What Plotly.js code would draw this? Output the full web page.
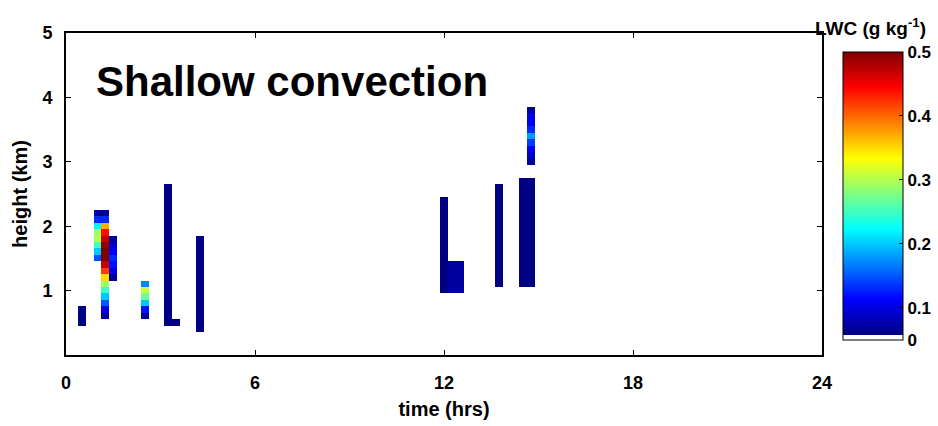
<!DOCTYPE html>
<html>
<head>
<meta charset="utf-8">
<script src="https://cdn.plot.ly/plotly-3.0.1.min.js"></script>
<style>
  body { margin: 0; background: #fff; }
  #chart { width: 938px; height: 426px; }
</style>
</head>
<body>
<div id="chart"></div>
<script>
// Cloud columns: time of each 15-min column (hrs), cloud base and top (km)
const timeHrs   = [0.5, 1.0, 1.25, 1.5, 2.5, 3.25, 3.5, 4.25, 12.0, 12.25, 12.5, 13.75, 14.5, 14.75, 14.75];
const cloudBase = [0.45, 1.45, 0.55, 1.15, 0.55, 0.45, 0.45, 0.35, 0.95, 0.95, 0.95, 1.05, 1.05, 1.05, 2.95];
const cloudTop  = [0.75, 2.25, 2.25, 1.85, 1.15, 2.65, 0.55, 1.85, 2.45, 1.45, 1.45, 2.65, 2.75, 2.75, 3.85];

// LWC (g/kg) in each 100 m layer, bottom to top; a single value fills the whole column
const lwcProfiles = [
  [0.06],
  [0.15, 0.20, 0.25, 0.30, 0.29, 0.22, 0.13, 0.07],
  [0.07, 0.10, 0.15, 0.20, 0.25, 0.29, 0.35, 0.42, 0.47, 0.50, 0.50, 0.49, 0.47, 0.44, 0.37, 0.13, 0.07],
  [0.07, 0.10, 0.12, 0.13, 0.11, 0.09, 0.07],
  [0.07, 0.12, 0.20, 0.27, 0.31, 0.17],
  [0.06],
  [0.06],
  [0.06],
  [0.06],
  [0.07],
  [0.07],
  [0.06],
  [0.06],
  [0.06],
  [0.07, 0.09, 0.11, 0.14, 0.18, 0.13, 0.11, 0.10, 0.07]
];

const xTicks = [0, 6, 12, 18, 24];
const yTicks = [1, 2, 3, 4, 5];
const cbTickVals = [0.05, 0.1, 0.2, 0.3, 0.4, 0.5];
const cbTickText = ['0', '0.1', '0.2', '0.3', '0.4', '0.5'];

// Regular grid: 15-min columns, 100 m layers
const xCenters = [];
for (let i = 0; i <= 96; i++) xCenters.push(i * 0.25);
const yCenters = [];
for (let k = 0; k <= 50; k++) yCenters.push(k / 10);
const z = yCenters.map(() => xCenters.map(() => null));

timeHrs.forEach((t, s) => {
  const col = Math.round(t / 0.25);
  const prof = lwcProfiles[s];
  let j = 0;
  yCenters.forEach((yc, r) => {
    if (yc > cloudBase[s] && yc < cloudTop[s]) {
      z[r][col] = prof.length === 1 ? prof[0] : prof[j];
      j++;
    }
  });
});

// Jet colormap with a white lowest entry
const jetStops = [[0, [0, 0, 0.5]], [0.125, [0, 0, 1]], [0.375, [0, 1, 1]],
                  [0.625, [1, 1, 0]], [0.875, [1, 0, 0]], [1, [0.5, 0, 0]]];
const whiteFrac = 0.017;
const colorscale = [[0, '#ffffff'], [whiteFrac, '#ffffff']];
jetStops.forEach(([p, c]) => {
  colorscale.push([whiteFrac + p * (1 - whiteFrac),
    'rgb(' + c.map(v => Math.round(v * 255)).join(',') + ')']);
});

const fontFam = 'Liberation Sans, Arial, Helvetica, sans-serif';

const trace = {
  type: 'heatmap',
  x: xCenters,
  y: yCenters,
  z: z,
  zmin: 0.05,
  zmax: 0.5,
  colorscale: colorscale,
  hoverongaps: false,
  colorbar: {
    x: 1.0278, xanchor: 'left', xpad: 0,
    y: 0.941, yanchor: 'top', ypad: 0,
    len: 288, lenmode: 'pixels',
    thickness: 60, thicknessmode: 'pixels',
    outlinecolor: '#000', outlinewidth: 1,
    tickvals: cbTickVals, ticktext: cbTickText,
    ticks: 'inside', ticklen: 4, tickcolor: '#000',
    tickfont: { family: fontFam, size: 17, color: '#000', weight: 'bold' }
  }
};

const axisCommon = {
  showline: true, linecolor: '#000', linewidth: 2,
  mirror: 'allticks', ticks: 'inside', ticklen: 5, tickcolor: '#000', tickwidth: 1,
  showgrid: false, zeroline: false, fixedrange: true,
  tickfont: { family: fontFam, size: 18, color: '#000', weight: 'bold' }
};

const layout = {
  width: 938, height: 426,
  margin: { l: 66, r: 116, t: 33, b: 71, pad: 0, autoexpand: false },
  paper_bgcolor: '#fff', plot_bgcolor: '#fff',
  xaxis: Object.assign({}, axisCommon, {
    range: [0, 24], tickvals: xTicks, ticklabelstandoff: 10,
    title: { text: 'time (hrs)', standoff: 10,
             font: { family: fontFam, size: 20, color: '#000', weight: 'bold' } }
  }),
  yaxis: Object.assign({}, axisCommon, {
    range: [0, 5], tickvals: yTicks, ticklabelstandoff: 8,
    title: { text: 'height (km)', standoff: 9,
             font: { family: fontFam, size: 20, color: '#000', weight: 'bold' } }
  }),
  annotations: [
    {
      text: 'Shallow convection', xref: 'paper', yref: 'paper',
      x: 0.0366, xanchor: 'left', y: 0.848, yanchor: 'middle', showarrow: false,
      font: { family: fontFam, size: 42, color: '#000', weight: 'bold' }
    },
    {
      text: 'LWC (g kg<sup>-1</sup>)', xref: 'paper', yref: 'paper',
      x: 1.0648, xanchor: 'center', y: 1.02, yanchor: 'middle', showarrow: false,
      font: { family: fontFam, size: 19, color: '#000', weight: 'bold' }
    }
  ]
};

Plotly.newPlot('chart', [trace], layout, { staticPlot: true, displayModeBar: false });
</script>
</body>
</html>
